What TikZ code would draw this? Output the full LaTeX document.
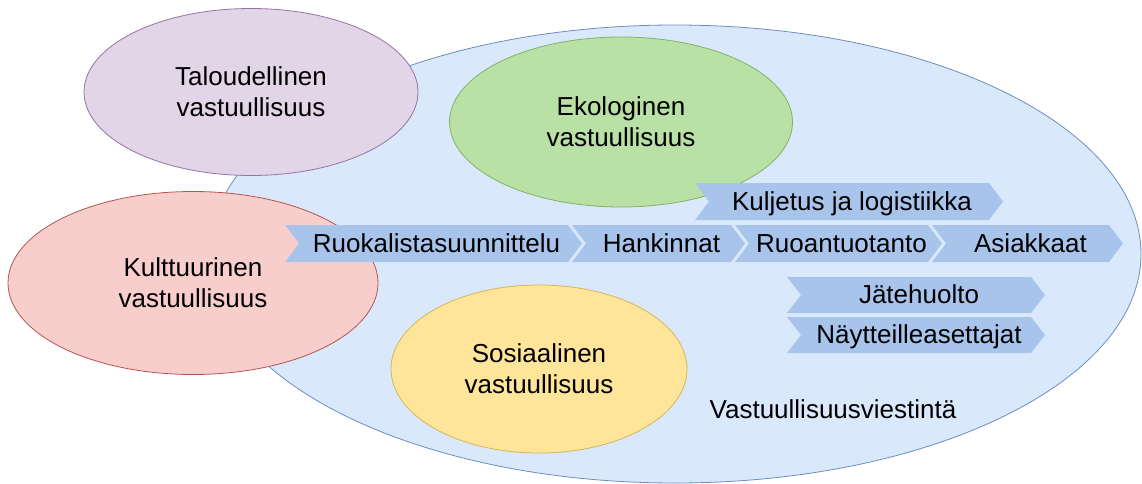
\documentclass[tikz,border=0pt]{standalone}
\usepackage{fontspec}
\setmainfont{Liberation Sans}
\usetikzlibrary{shapes.geometric}
\definecolor{bluefill}{HTML}{DAE8FC}
\definecolor{bluedraw}{HTML}{6C8EBF}
\definecolor{purfill}{HTML}{E1D5E7}
\definecolor{purdraw}{HTML}{9673A6}
\definecolor{grnfill}{HTML}{B9E0A5}
\definecolor{grndraw}{HTML}{82B366}
\definecolor{redfill}{HTML}{F8CECC}
\definecolor{reddraw}{HTML}{B85450}
\definecolor{yelfill}{HTML}{FFE599}
\definecolor{yeldraw}{HTML}{D6B656}
\definecolor{chevfill}{HTML}{A9C4EB}
\tikzset{
  blob/.style={ellipse, inner sep=0pt, align=center, line width=0.8pt,
    font=\fontsize{26}{31}\selectfont},
  lbl/.style={inner sep=0pt, font=\fontsize{26}{31}\selectfont, anchor=base},
  chevshape/.style={fill=chevfill, draw=none}
}
\newcommand\mychev[6]{%
  \fill[chevshape] (#2,#4) -- ({#3-14},#4) -- (#3,{(#4+#5)/2}) -- ({#3-14},#5)
    -- (#2,#5) -- ({#2+14},{(#4+#5)/2}) -- cycle;
  \node[lbl] (#1) at ({(#2+#3)/2+3},{(#4+#5)/2+8.5}) {#6};
}
\begin{document}
\begin{tikzpicture}[x=1pt,y=-1pt]
\useasboundingbox (0,0) rectangle (1142,484);
\node[blob, fill=bluefill, draw=bluedraw, minimum width=932pt, minimum height=458pt] (vast) at (675,254) {};
\node[lbl] (viest) at (833,418) {Vastuullisuusviestintä};
\node[blob, fill=purfill, draw=purdraw, minimum width=334pt, minimum height=167pt] (talo) at (251,92) {Taloudellinen\\vastuullisuus};
\node[blob, fill=grnfill, draw=grndraw, minimum width=343pt, minimum height=170pt] (eko) at (621,122) {Ekologinen\\vastuullisuus};
\node[blob, fill=redfill, draw=reddraw, minimum width=370pt, minimum height=183pt] (kult) at (193,283) {Kulttuurinen\\vastuullisuus};
\node[blob, fill=yelfill, draw=yeldraw, minimum width=296pt, minimum height=168pt] (sos) at (539,369) {Sosiaalinen\\vastuullisuus};
\mychev{ruok}{285}{582}{225}{262}{Ruokalistasuunnittelu}
\mychev{hank}{572}{745}{225}{262}{Hankinnat}
\mychev{ruoan}{735}{942}{225}{262}{Ruoantuotanto}
\mychev{asi}{932}{1123}{225}{262}{Asiakkaat}
\mychev{kulj}{695}{1003}{183}{220}{Kuljetus ja logistiikka}
\mychev{jate}{787}{1045}{277}{313}{Jätehuolto}
\mychev{nayt}{787}{1045}{317}{353}{Näytteilleasettajat}
\end{tikzpicture}
\end{document}
